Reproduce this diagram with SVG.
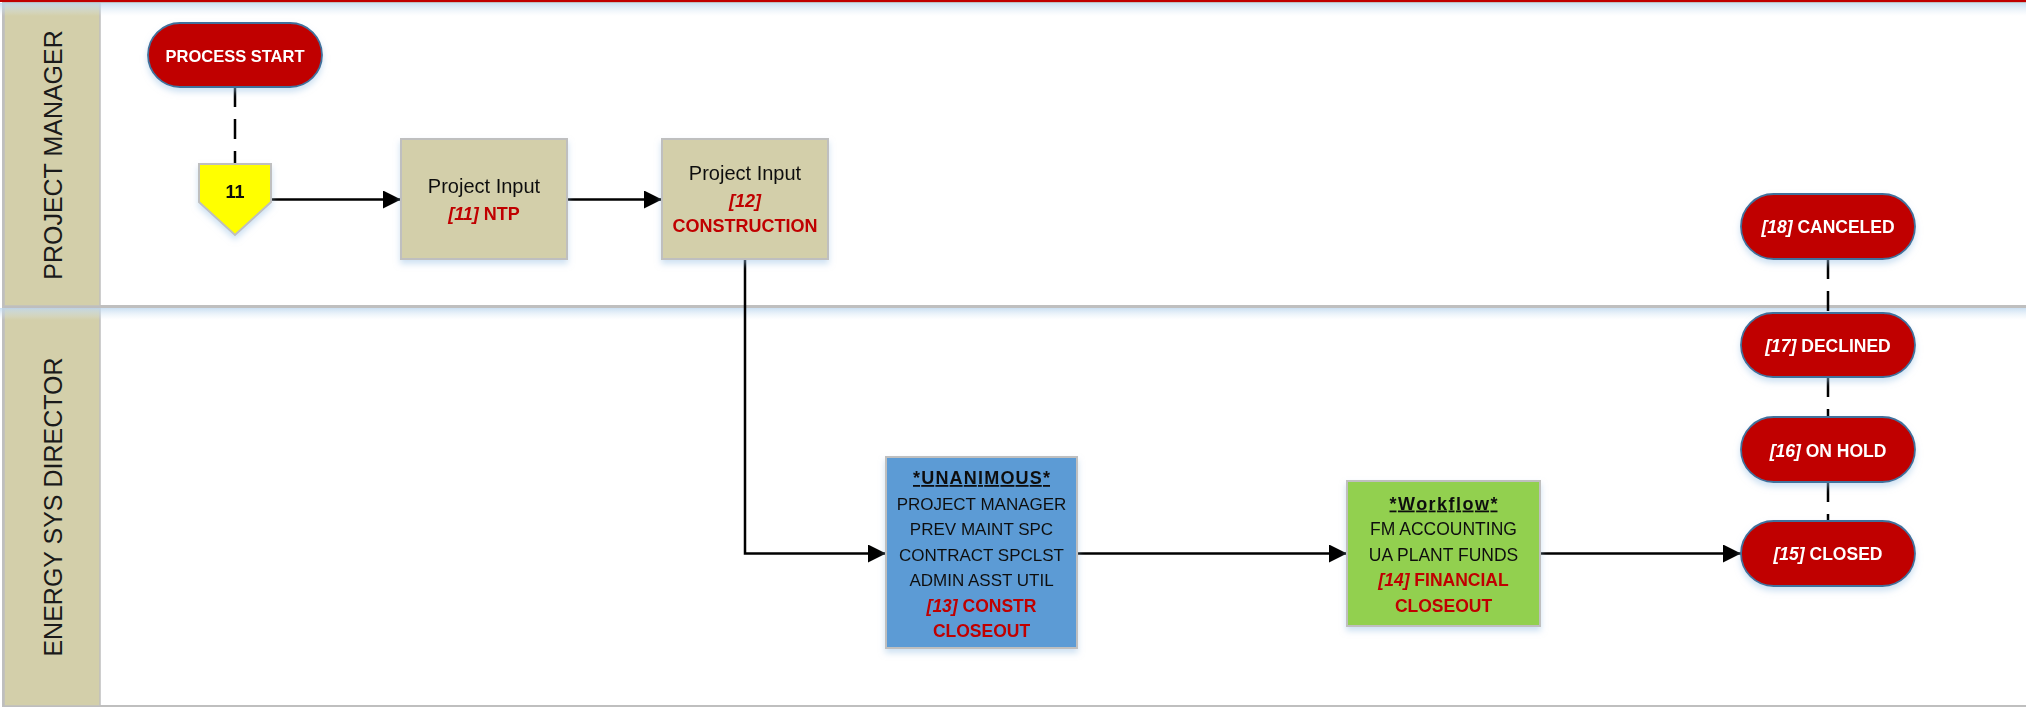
<svg xmlns="http://www.w3.org/2000/svg" width="2026" height="708" viewBox="0 0 2026 708">
<style>
.lane{fill:#ffffff;stroke:#BFBFBF;stroke-width:2}
.hdr{fill:#D3CFAA;stroke:#BFBFBF;stroke-width:1.5}
.lbl{font-family:"Liberation Sans",Arial,sans-serif;font-size:25px;fill:#1a1a1a;text-anchor:middle}
.term{fill:#C00000;stroke:#41719C;stroke-width:1.8}
.termt{font-family:"Liberation Sans",Arial,sans-serif;font-size:17.5px;font-weight:bold;fill:#ffffff;text-anchor:middle}
.box{stroke:#BFBFBF;stroke-width:2}
.t{font-family:"Liberation Sans",Arial,sans-serif;fill:#111111;text-anchor:middle}
.r{fill:#C00000;font-weight:bold}
.it{font-style:italic}
.con{fill:none;stroke:#000000;stroke-width:2.5}
.dash{fill:none;stroke:#000000;stroke-width:2.5;stroke-dasharray:20 12}
</style>
<defs>
<marker id="arr" markerUnits="userSpaceOnUse" markerWidth="18" markerHeight="18" refX="18" refY="9" orient="auto">
<path d="M0,0 L18,9 L0,18 Z" fill="#000000"/>
</marker>
<filter id="sh" x="-20%" y="-20%" width="140%" height="150%">
<feDropShadow dx="0" dy="4" stdDeviation="3" flood-color="#9DC3E6" flood-opacity="0.5"/>
</filter>
<linearGradient id="fade" x1="0" y1="0" x2="0" y2="1">
<stop offset="0" stop-color="#BDD7EE" stop-opacity="0.8"/>
<stop offset="1" stop-color="#DEEBF7" stop-opacity="0"/>
</linearGradient>
</defs>

<g id="lanes">
<rect x="0" y="0" width="2026" height="708" fill="#ffffff"/>
<rect x="3" y="2" width="2030" height="304" class="lane"/>
<rect x="3" y="307" width="2030" height="399" class="lane"/>
<rect x="4" y="3" width="96" height="303" class="hdr"/>
<rect x="4" y="308" width="96" height="398" class="hdr"/>
<rect x="0" y="0" width="2026" height="2" fill="#C00000"/>
<rect x="0" y="3" width="2026" height="13" fill="url(#fade)"/>
<rect x="0" y="308" width="2026" height="12" fill="url(#fade)"/>
<text class="lbl" transform="translate(62,155) rotate(-90)">PROJECT MANAGER</text>
<text class="lbl" transform="translate(62,507) rotate(-90)">ENERGY SYS DIRECTOR</text>
</g>

<g id="connectors">
<path class="dash" d="M235,87 V164"/>
<path class="con" d="M271,199.5 H401" marker-end="url(#arr)"/>
<path class="con" d="M567,199.5 H662" marker-end="url(#arr)"/>
<path class="con" d="M745,259 V553.5 H886" marker-end="url(#arr)"/>
<path class="con" d="M1077,553.5 H1347" marker-end="url(#arr)"/>
<path class="con" d="M1540,553.5 H1741" marker-end="url(#arr)"/>
<path class="dash" d="M1828,259 V313"/>
<path class="dash" d="M1828,377 V417"/>
<path class="dash" d="M1828,482 V521"/>
</g>

<g id="process-start" filter="url(#sh)">
<rect class="term" x="148" y="23" width="174" height="64" rx="32"/>
<text class="termt" x="235" y="62" font-size="16.5" style="font-size:16.5px">PROCESS START</text>
</g>

<g id="offpage-11" filter="url(#sh)">
<polygon points="199,164 271,164 271,202 235,235 199,202" fill="#FFFF00" stroke="#BFBFBF" stroke-width="2"/>
<text class="t" x="235" y="198" style="font-size:18px;font-weight:bold">11</text>
</g>

<g id="ntp" filter="url(#sh)">
<rect class="box" x="401" y="139" width="166" height="120" fill="#D3CFAA"/>
<text class="t" x="484" y="193" style="font-size:20px">Project Input</text>
<text class="t r" x="484" y="220" style="font-size:18px"><tspan class="it">[11]</tspan> NTP</text>
</g>

<g id="construction" filter="url(#sh)">
<rect class="box" x="662" y="139" width="166" height="120" fill="#D3CFAA"/>
<text class="t" x="745" y="180" style="font-size:20px">Project Input</text>
<text class="t r it" x="745" y="207" style="font-size:18px">[12]</text>
<text class="t r" x="745" y="232" style="font-size:18px">CONSTRUCTION</text>
</g>

<g id="constr-closeout" filter="url(#sh)">
<rect class="box" x="886" y="457" width="191" height="191" fill="#5B9BD5"/>
<text class="t" x="981.5" y="484" style="font-size:18px;font-weight:bold;text-decoration:underline" textLength="137">*UNANIMOUS*</text>
<text class="t" x="981.5" y="509.5" style="font-size:17px">PROJECT MANAGER</text>
<text class="t" x="981.5" y="535" style="font-size:17px">PREV MAINT SPC</text>
<text class="t" x="981.5" y="560.5" style="font-size:17px">CONTRACT SPCLST</text>
<text class="t" x="981.5" y="586" style="font-size:17px">ADMIN ASST UTIL</text>
<text class="t r" x="981.5" y="611.5" style="font-size:17.5px"><tspan class="it">[13]</tspan> CONSTR</text>
<text class="t r" x="981.5" y="637" style="font-size:17.5px">CLOSEOUT</text>
</g>

<g id="financial-closeout" filter="url(#sh)">
<rect class="box" x="1347" y="481" width="193" height="145" fill="#92D050"/>
<text class="t" x="1443.5" y="509.5" style="font-size:18px;font-weight:bold;text-decoration:underline" textLength="108">*Workflow*</text>
<text class="t" x="1443.5" y="535" style="font-size:17.5px">FM ACCOUNTING</text>
<text class="t" x="1443.5" y="560.5" style="font-size:17.5px">UA PLANT FUNDS</text>
<text class="t r" x="1443.5" y="586" style="font-size:17.5px"><tspan class="it">[14]</tspan> FINANCIAL</text>
<text class="t r" x="1443.5" y="611.5" style="font-size:17.5px">CLOSEOUT</text>
</g>

<g id="canceled" filter="url(#sh)">
<rect class="term" x="1741" y="194" width="174" height="65" rx="32.5"/>
<text class="termt" x="1828" y="233"><tspan class="it">[18]</tspan> CANCELED</text>
</g>

<g id="declined" filter="url(#sh)">
<rect class="term" x="1741" y="313" width="174" height="64" rx="32"/>
<text class="termt" x="1828" y="352"><tspan class="it">[17]</tspan> DECLINED</text>
</g>

<g id="on-hold" filter="url(#sh)">
<rect class="term" x="1741" y="417" width="174" height="65" rx="32.5"/>
<text class="termt" x="1828" y="457"><tspan class="it">[16]</tspan> ON HOLD</text>
</g>

<g id="closed" filter="url(#sh)">
<rect class="term" x="1741" y="521" width="174" height="65" rx="32.5"/>
<text class="termt" x="1828" y="560"><tspan class="it">[15]</tspan> CLOSED</text>
</g>
</svg>
